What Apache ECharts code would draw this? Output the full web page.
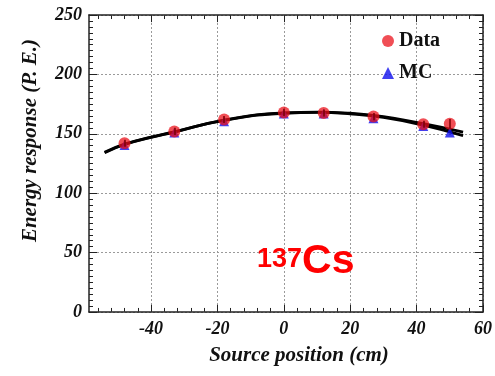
<!DOCTYPE html>
<html>
<head>
<meta charset="utf-8">
<script src="https://cdn.jsdelivr.net/npm/echarts@6/dist/echarts.min.js"></script>
<style>html,body{margin:0;padding:0;background:#fff;}#c{width:495px;height:376px;}</style>
</head>
<body>
<div id="c"></div>
<script>
// ---- data ----
var positions = [-48, -33, -18, 0, 12, 27, 42, 50];
var dataValues = [142, 152, 162, 168, 167.5, 164.5, 158, 158.5];
var dataErrors = [3, 3, 3, 3, 3, 3, 3, 4];
var mcValues = [140.5, 151, 160.5, 167, 167, 163, 156.5, 151];
var fitX = [-54, -48, -40, -33, -18, 0, 10, 20, 30, 42, 54];
var fitData = [134, 141, 147, 151.5, 161.5, 167.6, 168.3, 167.3, 164.5, 158.5, 151.5];
var fitMC = [134.5, 141.3, 147.2, 151.6, 161.3, 167.3, 168, 166.8, 163.8, 157.3, 148.5];
var xMajorTicks = [-40, -20, 0, 20, 40, 60];
var xMinorTicks = [-56, -52, -48, -44, -36, -32, -28, -24, -16, -12, -8, -4, 4, 8, 12, 16, 24, 28, 32, 36, 44, 48, 52, 56];
var xRange = [-58.7, 60];
var yRange = [0, 250];
var yStep = 50;

function pairs(xs, ys) { return xs.map(function (x, i) { return [x, ys[i]]; }); }

var serif = 'Liberation Serif';
var frame = '#222';
var labelStyle = { fontFamily: serif, fontWeight: 'bold', fontStyle: 'italic', fontSize: 18, color: '#111' };
var gridDots = { show: true, lineStyle: { color: '#9a9a9a', type: [2, 2], width: 1 } };

function xAx(pos, labels) {
  return {
    type: 'value', position: pos, min: xRange[0], max: xRange[1],
    axisLine: { show: true, onZero: false, lineStyle: { color: frame, width: 1.5 } },
    axisTick: { show: false, customValues: xMajorTicks },
    axisLabel: labels ? Object.assign({ show: true, customValues: xMajorTicks, margin: 8 }, labelStyle) : { show: false },
    splitLine: labels ? gridDots : { show: false }
  };
}
function yAx(pos, labels) {
  return {
    type: 'value', position: pos, min: yRange[0], max: yRange[1], interval: yStep,
    axisLine: { show: true, onZero: false, lineStyle: { color: frame, width: 1.5 } },
    axisTick: { show: true, inside: true, length: 8, lineStyle: { color: frame, width: 1 } },
    minorTick: { show: true, splitNumber: 10, length: 4, lineStyle: { color: frame, width: 1 } },
    axisLabel: labels ? Object.assign({ show: true, margin: 7 }, labelStyle) : { show: false },
    splitLine: labels ? gridDots : { show: false }
  };
}

var xAxes = [xAx('bottom', true), xAx('top', false)];
xAxes[0].name = 'Source position (cm)';
xAxes[0].nameLocation = 'middle';
xAxes[0].nameGap = 33;
xAxes[0].nameTextStyle = { fontFamily: serif, fontWeight: 'bold', fontStyle: 'italic', fontSize: 21, color: '#111', padding: [0, 0, 0, 26] };

var yAxes = [yAx('left', true), yAx('right', false)];
yAxes[0].name = 'Energy response (P. E.)';
yAxes[0].nameLocation = 'middle';
yAxes[0].nameGap = 48;
yAxes[0].nameTextStyle = { fontFamily: serif, fontWeight: 'bold', fontStyle: 'italic', fontSize: 21, color: '#111', padding: [0, 0, 0, 46] };

// inside tick marks on the bottom and top frame, drawn through the axis scale
// (tick length expressed in y units: 1 px ~ 250/297 units)
var tickStyle = { color: frame, type: 'solid', width: 1 };
function tickLines(values, lenUnits) {
  var out = [];
  values.forEach(function (v) {
    out.push([{ coord: [v, yRange[0] + 0.3], lineStyle: tickStyle }, { coord: [v, yRange[0] + lenUnits] }]);
    out.push([{ coord: [v, yRange[1] - 0.3], lineStyle: tickStyle }, { coord: [v, yRange[1] - lenUnits] }]);
  });
  return out;
}
var errorBars = positions.map(function (x, i) {
  return [{ coord: [x, dataValues[i] - dataErrors[i]] }, { coord: [x, dataValues[i] + dataErrors[i]] }];
});

var chart = echarts.init(document.getElementById('c'), null, { renderer: 'canvas' });
chart.setOption({
  backgroundColor: '#fff',
  animation: false,
  grid: { left: 89, right: 5, top: 15, bottom: 64, containLabel: false },
  xAxis: xAxes,
  yAxis: yAxes,
  legend: {
    orient: 'vertical', left: 382, top: 31, padding: 0, itemGap: 12,
    itemWidth: 12, itemHeight: 12,
    data: [{ name: 'Data', icon: 'circle' }, { name: 'MC', icon: 'triangle' }],
    textStyle: { fontFamily: serif, fontWeight: 'bold', fontSize: 20, color: '#111', lineHeight: 18 }
  },
  title: {
    text: '{a|137}{b|Cs}', left: 257, top: 246, padding: 0,
    textStyle: {
      rich: {
        a: { fontFamily: 'Liberation Sans', fontWeight: 'bold', fontSize: 27, color: '#ff0000', verticalAlign: 'top', lineHeight: 36 },
        b: { fontFamily: 'Liberation Sans', fontWeight: 'bold', fontSize: 41, color: '#ff0000', verticalAlign: 'bottom', lineHeight: 36 }
      }
    }
  },
  series: [
    { name: 'fitData', type: 'line', xAxisIndex: 0, yAxisIndex: 0, data: pairs(fitX, fitData), smooth: 0.5, symbol: 'none', lineStyle: { color: '#000', width: 2.8 }, z: 2, silent: true },
    { name: 'fitMC', type: 'line', xAxisIndex: 0, yAxisIndex: 0, data: pairs(fitX, fitMC), smooth: 0.5, symbol: 'none', lineStyle: { color: '#000', width: 2.8 }, z: 2, silent: true },
    { name: 'MC', type: 'scatter', xAxisIndex: 0, yAxisIndex: 0, data: pairs(positions, mcValues), symbol: 'triangle', symbolSize: 10, itemStyle: { color: '#1010ee' }, z: 3 },
    { name: 'Data', type: 'scatter', xAxisIndex: 0, yAxisIndex: 0, data: pairs(positions, dataValues), symbol: 'circle', symbolSize: 12, itemStyle: { color: 'rgba(235,15,25,0.92)' }, z: 5,
      markLine: { symbol: 'none', silent: true, animation: false, label: { show: false }, z: 6,
        lineStyle: { color: '#7a0000', type: 'solid', width: 1.5 },
        data: errorBars.concat(tickLines(xMajorTicks, 6), tickLines(xMinorTicks, 3.4)) } }
  ]
});
</script>
</body>
</html>
